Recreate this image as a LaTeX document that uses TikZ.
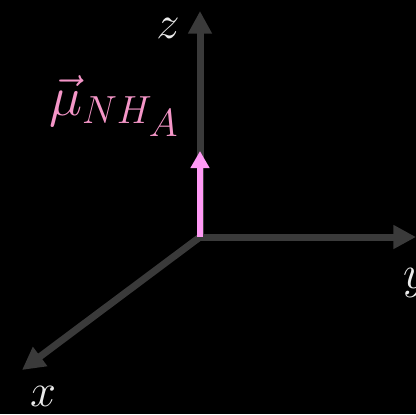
\RequirePackage{fix-cm}
\documentclass[tikz,border=0pt]{standalone}
\usepackage{amsmath}
\usepackage{amssymb}
\usepackage{tikz}
\usepackage{xcolor}
\usetikzlibrary{arrows.meta}

\definecolor{axisgray}{RGB}{58,58,58}
\definecolor{dipolepink}{RGB}{255,153,245}
\definecolor{labelpink}{RGB}{245,150,200}
\definecolor{labelwhite}{RGB}{235,235,235}

\begin{document}
\begin{tikzpicture}[x=0.75pt,y=0.75pt,yscale=-1,xscale=1,
  axis/.style={draw=axisgray,line width=5.25pt,-{Triangle[length=17pt,width=17pt]}},
  dipole/.style={draw=dipolepink,line width=4.9pt,-{Triangle[length=12.75pt,width=13.5pt]}},
  axislabel/.style={text=labelwhite,inner sep=0pt,font=\fontsize{35}{35}\selectfont}]

%Background
\fill [black] (0,0) rectangle (416,414) ;
\useasboundingbox (0,0) rectangle (416,414) ;
\clip (0,0) rectangle (416,414) ;

%Points
\coordinate (O) at (200,237) ;
\coordinate (Z) at (200,11) ;
\coordinate (Y) at (416,237) ;
\coordinate (X) at (22,370) ;
\coordinate (M) at (200,151) ;

%Axes
\draw [axis] (O) -- (Z) ;
\draw [axis] (O) -- (Y) ;
\draw [axis] (O) -- (X) ;
%Dipole arrow
\draw [dipole] (O) -- (M) ;

% Text Node
\node (zlab) [axislabel] at (168,28) {$z$};
% Text Node
\node (ylab) [axislabel] at (415,283) {$y$};
% Text Node
\node (xlab) [axislabel] at (43,396) {$x$};
% Text Node
\node (mulab) [text=labelpink,inner sep=0pt,font=\fontsize{42}{42}\selectfont] at (114,106) {$\vec{\mu}_{NH_{\scriptstyle A}}$};

\end{tikzpicture}
\end{document}
